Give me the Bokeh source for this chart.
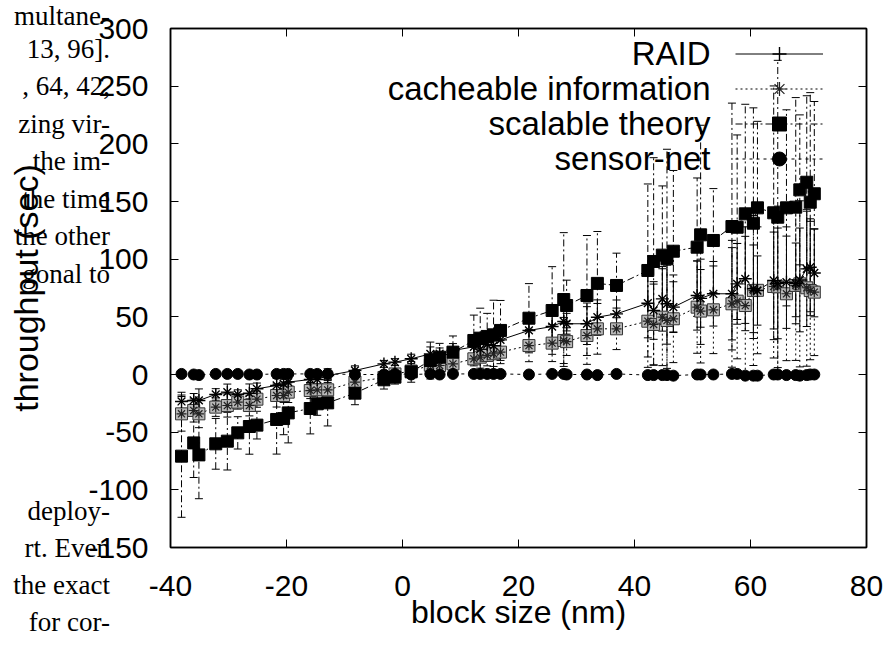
from bokeh.plotting import figure
from bokeh.models import (ColumnDataSource, Whisker, TeeHead, Legend, LegendItem, Label,
                          LinearAxis, Range1d, FixedTicker, Div, GridBox)
from bokeh.embed import file_html
from bokeh.resources import INLINE
from bokeh.core.properties import value

# ---------------- data ----------------
block_size = [-38.1, -36.0, -35.1, -32.2, -30.2, -28.4, -26.4, -25.1, -21.7, -20.5,
              -19.7, -15.9, -14.7, -12.9, -8.2, -3.2, -1.3, 1.5, 4.8, 6.4,
              8.7, 12.3, 13.4, 14.6, 15.7, 16.9, 21.8, 25.8, 27.8, 28.3,
              31.8, 33.6, 36.9, 42.3, 43.3, 44.8, 45.6, 46.7, 50.8, 51.4,
              53.6, 56.8, 57.7, 59.1, 60.5, 61.2, 64.0, 64.7, 66.2, 67.8,
              68.5, 69.7, 70.3, 71.0]

raid = [-23.4, -22.5, -22.5, -17.3, -15.3, -17.3, -16.2, -12.4, -9.5, -8.1,
        -6.6, -4.3, -4.3, -1.0, 3.5, 9.2, 10.7, 13.6, 17.9, 18.0,
        20.8, 24.0, 22.0, 26.0, 25.0, 30.0, 38.2, 41.6, 46.0, 44.0,
        44.0, 49.7, 52.6, 61.8, 55.5, 65.6, 61.3, 58.4, 68.5, 66.0,
        70.0, 70.0, 78.6, 83.0, 74.3, 72.8, 81.5, 79.0, 80.0, 79.0,
        82.0, 91.6, 93.0, 88.0]
raid_err = [8, 6, 10, 5, 7, 4, 8, 5, 6, 4,
            8, 5, 4, 6, 4, 3, 3, 4, 6, 5,
            6, 8, 10, 7, 9, 8, 10, 12, 14, 9,
            18, 15, 12, 30, 25, 28, 35, 22, 30, 25,
            28, 40, 35, 45, 38, 30, 42, 48, 40, 35,
            45, 50, 42, 38]

cacheable = [-34.1, -31.2, -34.1, -28.3, -26.9, -24.0, -26.9, -21.4, -18.2, -18.2,
             -15.3, -13.9, -13.3, -13.3, -6.6, -2.6, 0.5, 3.0, 8.0, 7.8,
             9.2, 13.6, 15.0, 16.5, 18.0, 19.4, 25.1, 27.2, 29.5, 28.5,
             33.8, 39.6, 39.6, 46.2, 43.4, 49.7, 46.8, 48.3, 58.4, 55.0,
             56.1, 61.3, 63.6, 59.8, 72.8, 73.0, 76.3, 76.0, 70.0, 77.2,
             78.6, 75.2, 72.8, 71.4]
cacheable_err = [15, 10, 12, 8, 10, 6, 9, 7, 10, 5,
                 9, 7, 5, 8, 6, 4, 4, 5, 8, 6,
                 7, 10, 12, 9, 11, 10, 14, 16, 20, 12,
                 25, 22, 18, 40, 35, 42, 48, 38, 40, 45,
                 38, 55, 50, 60, 65, 55, 62, 70, 58, 65,
                 72, 68, 60, 55]

scalable = [-70.8, -59.3, -69.7, -60.1, -57.8, -50.6, -45.1, -43.9, -39.0, -38.2,
            -33.3, -29.5, -25.4, -24.6, -16.2, -4.6, -2.3, 2.3, 12.1, 15.0,
            19.4, 29.5, 31.5, 33.0, 34.4, 38.2, 48.8, 55.5, 65.0, 59.8,
            68.5, 79.0, 77.2, 90.2, 98.0, 103.5, 100.3, 106.9, 110.4, 121.1,
            116.2, 128.3, 127.7, 139.3, 131.2, 144.5, 140.2, 136.4, 144.5, 145.1,
            160.1, 166.7, 149.4, 156.7]
scalable_err = [53, 30, 38, 22, 25, 14, 24, 12, 30, 14,
                26, 22, 10, 20, 10, 8, 6, 9, 16, 12,
                14, 22, 26, 20, 30, 26, 30, 38, 58, 22,
                52, 45, 28, 75, 90, 60, 95, 70, 60, 95,
                45, 107, 80, 95, 100, 75, 110, 136, 85, 95,
                65, 75, 95, 80]

sensor_net = [0.5, 0.0, -0.5, 0.5, 0.5, 0.5, 0.0, 0.0, 0.5, 0.5,
              0.5, 0.5, 0.5, 0.5, 0.0, 0.0, 0.5, 0.0, 0.5, 0.0,
              0.5, 0.5, 0.5, 0.5, 0.5, 0.5, 0.0, 0.5, 0.5, 0.0,
              0.0, -0.5, 0.5, -0.5, -0.5, -0.5, -0.5, -1.0, 0.0, 0.0,
              0.0, 0.5, 0.5, -1.0, -1.0, -1.0, 0.0, 0.0, -0.5, -0.5,
              -1.0, -0.5, 0.0, 0.0]
sensor_net_err = [1, 1, 2, 1, 1, 2, 1, 1, 2, 1,
                  1, 2, 1, 1, 1, 1, 2, 1, 1, 1,
                  2, 1, 1, 2, 1, 1, 2, 1, 2, 1,
                  1, 2, 1, 2, 1, 2, 1, 2, 1, 2,
                  1, 2, 1, 2, 1, 2, 1, 2, 1, 2,
                  1, 2, 1, 2]

series_names = ["RAID", "cacheable information", "scalable theory", "sensor-net"]
x_ticks = [-40, -20, 0, 20, 40, 60, 80]
y_ticks = [-150, -100, -50, 0, 50, 100, 150, 200, 250, 300]

side_text_top = ["multane-", "13, 96].", ", 64, 42,", "zing vir-", "the im-",
                 "the time", "the other", "gonal to"]
side_text_bottom = ["deploy-", "rt. Even", "the exact", "for cor-"]

# ---------------- figure ----------------
SANS = "Liberation Sans"
p = figure(width=891, height=650, x_range=Range1d(-40, 80), y_range=Range1d(-150, 300),
           output_backend="svg", toolbar_location=None,
           min_border_left=170, min_border_right=25, min_border_top=28, min_border_bottom=103)
p.background_fill_color = "white"
p.border_fill_color = "white"
p.xgrid.visible = False
p.ygrid.visible = False
p.outline_line_color = "black"
p.outline_line_width = 1.5

for ax in (p.xaxis[0], p.yaxis[0]):
    ax.major_tick_in = 8
    ax.major_tick_out = 0
    ax.minor_tick_line_color = None
    ax.axis_line_color = "black"
    ax.axis_line_width = 1.5
    ax.major_label_text_font = SANS
    ax.major_label_text_font_size = "30px"
    ax.major_label_text_color = "black"
    ax.axis_label_text_font = SANS
    ax.axis_label_text_font_style = "normal"
    ax.axis_label_text_color = "black"

p.xaxis[0].ticker = FixedTicker(ticks=x_ticks)
p.yaxis[0].ticker = FixedTicker(ticks=y_ticks)
p.xaxis[0].major_label_overrides = {t: str(t) for t in x_ticks}
p.yaxis[0].major_label_overrides = {t: str(t) for t in y_ticks}
p.xaxis[0].axis_label = "block size (nm)"
p.yaxis[0].axis_label = "throughput (sec)"
p.xaxis[0].axis_label_text_font_size = "32px"
p.yaxis[0].axis_label_text_font_size = "34px"
p.xaxis[0].major_label_standoff = 28
p.xaxis[0].axis_label_standoff = -5
p.yaxis[0].major_label_standoff = 22
p.yaxis[0].axis_label_standoff = 40

# mirrored ticks on top and right
top_ax = LinearAxis(ticker=FixedTicker(ticks=x_ticks), major_tick_in=8, major_tick_out=0,
                    minor_tick_line_color=None, axis_line_width=1.5,
                    major_label_overrides={t: "" for t in x_ticks}, major_label_standoff=0)
right_ax = LinearAxis(ticker=FixedTicker(ticks=y_ticks), major_tick_in=8, major_tick_out=0,
                      minor_tick_line_color=None, axis_line_width=1.5,
                      major_label_overrides={t: "" for t in y_ticks}, major_label_standoff=0)
p.add_layout(top_ax, "above")
p.add_layout(right_ax, "right")

# ---------------- series ----------------
values = [raid, cacheable, scalable, sensor_net]
errors = [raid_err, cacheable_err, scalable_err, sensor_net_err]
dashes = ["solid", "2 3", "7 3 2 3", "3 4"]

line_renderers = []
for vals, errs, dash in zip(values, errors, dashes):
    src = ColumnDataSource(dict(x=block_size, y=vals,
                                lower=[v - e for v, e in zip(vals, errs)],
                                upper=[v + e for v, e in zip(vals, errs)]))
    p.add_layout(Whisker(source=src, base="x", lower="lower", upper="upper",
                         dimension="height", line_color="black", line_width=1,
                         line_dash=dash,
                         upper_head=TeeHead(size=8, line_color="black", line_width=1),
                         lower_head=TeeHead(size=8, line_color="black", line_width=1)))
    line_renderers.append(p.line("x", "y", source=src, line_color="black",
                                 line_width=1, line_dash=dash))

src_r = ColumnDataSource(dict(x=block_size, y=raid))
src_c = ColumnDataSource(dict(x=block_size, y=cacheable))
src_s = ColumnDataSource(dict(x=block_size, y=scalable))
src_n = ColumnDataSource(dict(x=block_size, y=sensor_net))

p.scatter("x", "y", source=src_c, marker="square", size=12, fill_color="#b8b8b8",
          line_color="#333333", line_width=1)
m_c = p.scatter("x", "y", source=src_c, marker="asterisk", size=10,
                line_color="#222222", line_width=1.2)
m_r = p.scatter("x", "y", source=src_r, marker="cross", size=13, line_color="black",
                line_width=1.4)
p.scatter("x", "y", source=src_r, marker="x", size=11, line_color="black", line_width=1.4)
m_s = p.scatter("x", "y", source=src_s, marker="square", size=12, fill_color="black",
                line_color="black")
m_n = p.scatter("x", "y", source=src_n, marker="circle", size=11, fill_color="black",
                line_color="black")

# ---------------- legend (samples on the right, names on the left) ----------------
marker_renderers = [m_r, m_c, m_s, m_n]
items = [LegendItem(label=value(" "), renderers=[lr, mr])
         for lr, mr in zip(line_renderers, marker_renderers)]
legend = Legend(items=items, location=(565, 371), glyph_width=88, glyph_height=35,
                spacing=0, padding=0, margin=0, label_standoff=0, label_width=0,
                label_height=35, border_line_color=None, background_fill_alpha=0,
                label_text_font_size="1px")
p.add_layout(legend)

for i, name in enumerate(series_names):
    p.add_layout(Label(x=710, y=53 + 35 * i, x_units="canvas", y_units="canvas",
                       text=name, text_align="right", text_baseline="middle",
                       text_font=SANS, text_font_size="33px", text_color="black"))

# ---------------- neighbouring column text visible at the left edge ----------------
top_rows = [-2.0] + [-6.6 + 37.5 * i for i in range(1, len(side_text_top))]
spans = []
for t, top in zip(side_text_top, top_rows):
    spans.append('<div style="position:absolute;right:786px;top:%.1fpx;white-space:nowrap;">%s</div>'
                 % (top, t))
for i, t in enumerate(side_text_bottom):
    spans.append('<div style="position:absolute;right:786px;top:%.1fpx;white-space:nowrap;">%s</div>'
                 % (493.4 + 37 * i, t))
side_html = ('<div style="position:relative;width:891px;height:650px;'
             "font-family:'Liberation Serif',serif;font-size:27px;line-height:1;"
             'color:black;pointer-events:none;">' + "".join(spans) + "</div>")
side = Div(text=side_html, width=891, height=650,
           styles={"pointer-events": "none", "background": "transparent"})

layout = GridBox(children=[(p, 0, 0), (side, 0, 0)])

open("out.html", "w").write(file_html(layout, INLINE))
